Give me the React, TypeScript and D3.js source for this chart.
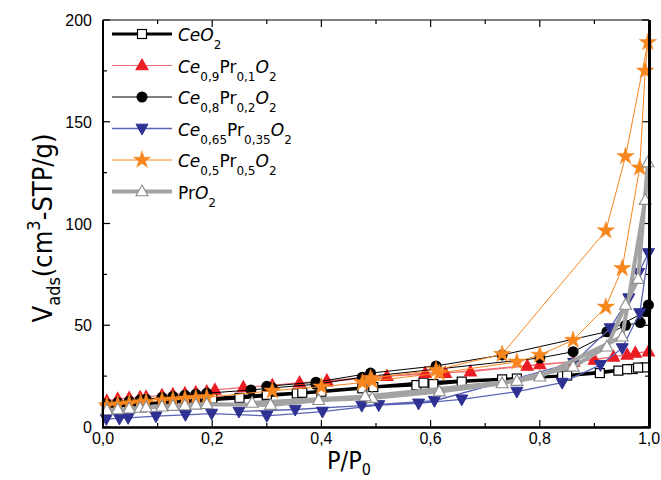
import React from "react";
import * as d3 from "d3";

type Pt = [number, number];

// P/P0, Vads pairs in measurement order (adsorption then desorption)
const ceo2: Pt[] = [[0.007,9.5],[0.027,10.3],[0.048,10.8],[0.068,11.2],[0.079,11.4],[0.108,12],[0.128,12.3],[0.15,12.6],[0.17,12.9],[0.19,13.2],[0.2,13.4],[0.25,14.3],[0.3,15.3],[0.355,16.5],[0.4,17.3],[0.475,19],[0.495,19.6],[0.574,20.6],[0.605,21.1],[0.657,22.3],[0.731,23.4],[0.841,25],[0.91,26.5],[0.944,27.7],[0.97,28.5],[0.994,29.3],[0.98,29.2],[0.96,28.4],[0.85,25.3],[0.758,23.8],[0.587,21.8],[0.365,16.8],[0.3,15.8],[0.2,14]];
const ce09: Pt[] = [[0.007,12.8],[0.027,13.8],[0.048,14.3],[0.068,14.6],[0.079,14.8],[0.108,15.6],[0.128,16],[0.15,16.5],[0.17,17],[0.19,17.4],[0.205,18.2],[0.257,19.5],[0.31,20.5],[0.36,21.8],[0.41,22.3],[0.59,26.5],[0.673,27.2],[0.777,30],[0.862,32],[0.935,34.5],[0.975,36.4],[0.999,37],[0.96,35.5],[0.9,33],[0.8,30.8],[0.627,26.5],[0.52,25],[0.41,22.8]];
const ce08: Pt[] = [[0.007,11.3],[0.027,12],[0.048,12.6],[0.068,13.3],[0.079,13.6],[0.108,14.5],[0.128,15],[0.15,15.6],[0.17,16.1],[0.19,16.6],[0.271,18.2],[0.31,19.2],[0.39,21],[0.475,24.5],[0.8,33.9],[0.861,37],[0.957,50],[0.984,51.3],[0.999,60],[0.994,56.7],[0.923,46.8],[0.731,35.4],[0.61,30],[0.49,26.5],[0.39,22],[0.3,20]];
const ce065: Pt[] = [[0.006,4],[0.03,4.2],[0.046,4.5],[0.097,5.3],[0.151,6],[0.199,6.6],[0.3,5.5],[0.402,7.6],[0.505,10.8],[0.578,11.6],[0.657,13.6],[0.758,17.4],[0.841,21.8],[0.911,30.5],[0.951,38.8],[0.983,56],[0.999,85.5],[0.981,75.8],[0.963,63.3],[0.929,48.6],[0.862,31.6],[0.607,12.9],[0.474,10.5],[0.352,8.6],[0.249,7.6]];
const ce05: Pt[] = [[0.007,10.5],[0.027,11],[0.048,11.5],[0.069,12],[0.079,12.3],[0.108,13],[0.128,13.4],[0.15,13.8],[0.17,14.2],[0.19,14.6],[0.31,17.8],[0.4,19.8],[0.475,21.8],[0.493,22.6],[0.616,26.5],[0.758,32],[0.8,35.4],[0.861,42.7],[0.921,59],[0.951,78],[0.983,127.4],[0.993,175],[0.998,189],[0.957,133],[0.921,96.5],[0.731,35.8],[0.61,28],[0.49,24]];
const pro2: Pt[] = [[0.007,8.3],[0.027,8.6],[0.048,9],[0.068,9.4],[0.079,9.6],[0.108,10],[0.128,10.3],[0.15,10.6],[0.17,10.9],[0.19,11.2],[0.307,10.8],[0.395,13.2],[0.493,14.2],[0.616,17.4],[0.731,21.4],[0.861,29.6],[0.923,39.5],[0.957,60],[0.98,72.7],[0.998,130],[0.993,111.5],[0.951,44.4],[0.8,24.7],[0.758,22.6],[0.48,15],[0.273,11.8]];

const xTicks = [0, 0.2, 0.4, 0.6, 0.8, 1.0];
const xTickLabels = ["0,0", "0,2", "0,4", "0,6", "0,8", "1,0"];
const yTicks = [0, 50, 100, 150, 200];

type Seg = { t: string; sub?: boolean; it?: boolean };
const labels: Seg[][] = [
  [{ t: "Ce", it: true }, { t: "O", it: true }, { t: "2", sub: true }],
  [{ t: "Ce", it: true }, { t: "0,9", sub: true }, { t: "Pr" }, { t: "0,1", sub: true }, { t: "O", it: true }, { t: "2", sub: true }],
  [{ t: "Ce", it: true }, { t: "0,8", sub: true }, { t: "Pr" }, { t: "0,2", sub: true }, { t: "O", it: true }, { t: "2", sub: true }],
  [{ t: "Ce", it: true }, { t: "0,65", sub: true }, { t: "Pr" }, { t: "0,35", sub: true }, { t: "O", it: true }, { t: "2", sub: true }],
  [{ t: "Ce", it: true }, { t: "0,5", sub: true }, { t: "Pr" }, { t: "0,5", sub: true }, { t: "O", it: true }, { t: "2", sub: true }],
  [{ t: "Pr" }, { t: "O", it: true }, { t: "2", sub: true }],
];

type Style = { line: string; lw: number; marker: string; fill: string; stroke: string; size: number };
const series: { data: Pt[]; st: Style }[] = [
  { data: ceo2, st: { line: "#000", lw: 3, marker: "square", fill: "#fff", stroke: "#000", size: 9 } },
  { data: ce09, st: { line: "#ef6f74", lw: 1.2, marker: "triangle", fill: "#ec1c24", stroke: "#ec1c24", size: 12 } },
  { data: ce08, st: { line: "#000", lw: 1, marker: "circle", fill: "#000", stroke: "#000", size: 11 } },
  { data: ce065, st: { line: "#5a63b4", lw: 1.3, marker: "tridown", fill: "#2e3192", stroke: "#2e3192", size: 12 } },
  { data: ce05, st: { line: "#f7861e", lw: 1, marker: "star", fill: "#f7861e", stroke: "#f7861e", size: 13 } },
  { data: pro2, st: { line: "#a3a3a3", lw: 4, marker: "triup", fill: "#fff", stroke: "#8c8c8c", size: 12 } },
];

const W = 661, H = 480;
const x = d3.scaleLinear().domain([0, 1]).range([103, 649]);
const y = d3.scaleLinear().domain([0, 200]).range([427, 20]);

function Marker({ cx, cy, st }: { cx: number; cy: number; st: Style }) {
  const s = st.size;
  if (st.marker === "square")
    return <rect x={cx - s / 2} y={cy - s / 2} width={s} height={s} fill={st.fill} stroke={st.stroke} strokeWidth={1.2} />;
  if (st.marker === "circle") return <circle cx={cx} cy={cy} r={s / 2} fill={st.fill} />;
  const h = s * 0.9;
  if (st.marker === "triangle" || st.marker === "triup")
    return <path d={`M${cx},${cy - h * 0.6}L${cx + s / 2},${cy + h * 0.4}L${cx - s / 2},${cy + h * 0.4}Z`} fill={st.fill} stroke={st.stroke} strokeWidth={1.1} />;
  if (st.marker === "tridown")
    return <path d={`M${cx},${cy + h * 0.6}L${cx + s / 2},${cy - h * 0.4}L${cx - s / 2},${cy - h * 0.4}Z`} fill={st.fill} stroke={st.stroke} strokeWidth={1} />;
  const star = d3.symbol().type(d3.symbolStar).size(s * s * 0.55)();
  return <path d={star || ""} transform={`translate(${cx},${cy})`} fill={st.fill} stroke={st.stroke} strokeWidth={0.5} />;
}

export default function App() {
  const line = d3.line<Pt>().x((d) => x(d[0])).y((d) => y(d[1]));
  const x0 = x(0), x1 = x(1), y0 = y(0), y1 = y(200);
  const minorX = d3.range(0, 1.0001, 0.1);
  const minorY = d3.range(0, 200.001, 25);
  const tickFont = "'Liberation Sans', Arial, sans-serif";
  const legFont = "'DejaVu Sans', Verdana, sans-serif";
  const titleFont = "'DejaVu Sans Condensed', 'DejaVu Sans', sans-serif";
  return (
    <svg width={W} height={H} style={{ position: "absolute", left: 0, top: 0, background: "#fff" }}>
      <rect width={W} height={H} fill="#fff" />
      {/* ticks */}
      {minorX.map((v, i) => {
        const len = i % 2 === 0 ? 7 : 4;
        return (
          <g key={"xt" + i} stroke="#000" strokeWidth={1.2}>
            <line x1={x(v)} x2={x(v)} y1={y0} y2={y0 - len} />
            <line x1={x(v)} x2={x(v)} y1={y1} y2={y1 + len} />
          </g>
        );
      })}
      {minorY.map((v, i) => {
        const len = i % 2 === 0 ? 7 : 4;
        return (
          <g key={"yt" + i} stroke="#000" strokeWidth={1.2}>
            <line x1={x0} x2={x0 + len} y1={y(v)} y2={y(v)} />
            <line x1={x1} x2={x1 - len} y1={y(v)} y2={y(v)} />
          </g>
        );
      })}
      {/* series */}
      {series.map((s, i) => (
        <g key={"s" + i}>
          <path d={line(s.data) || ""} fill="none" stroke={s.st.line} strokeWidth={s.st.lw} strokeLinejoin="round" />
          {s.data.map((d, j) => (
            <Marker key={j} cx={x(d[0])} cy={y(d[1])} st={s.st} />
          ))}
        </g>
      ))}
      {/* frame */}
      <line x1={x0} x2={x1} y1={y1} y2={y1} stroke="#000" strokeWidth={1.2} />
      <line x1={x0} x2={x0} y1={y1} y2={y0 + 1} stroke="#000" strokeWidth={2} />
      <line x1={x0 - 1} x2={x1 + 1.5} y1={y0 + 0.5} y2={y0 + 0.5} stroke="#000" strokeWidth={2.5} />
      <line x1={x1 + 0.5} x2={x1 + 0.5} y1={y1} y2={y0 + 1} stroke="#000" strokeWidth={3} />
      {/* tick labels */}
      {xTicks.map((v, i) => (
        <text key={"xl" + i} x={x(v)} y={444} textAnchor="middle" fontFamily={tickFont} fontSize={16}>
          {xTickLabels[i]}
        </text>
      ))}
      {yTicks.map((v, i) => (
        <text key={"yl" + i} x={x0 - 11} y={y(v) + 6} textAnchor="end" fontFamily={tickFont} fontSize={16}>
          {v}
        </text>
      ))}
      {/* axis titles */}
      <text x={349} y={469} textAnchor="middle" fontFamily={titleFont} fontSize={25}>
        P/P<tspan fontSize={16} dy={6}>0</tspan>
      </text>
      <text transform="translate(52,228) rotate(-90)" textAnchor="middle" fontFamily={titleFont} fontSize={27}>
        V<tspan fontSize={18} dy={8}>ads</tspan>
        <tspan dy={-8}>(cm</tspan>
        <tspan fontSize={18} dy={-12}>3</tspan>
        <tspan dy={12}>-STP/g)</tspan>
      </text>
      {/* legend */}
      {series.map((s, i) => {
        const ly = 34 + i * 31.5;
        return (
          <g key={"lg" + i}>
            <line x1={112} x2={172} y1={ly} y2={ly} stroke={s.st.line} strokeWidth={s.st.lw} />
            <Marker cx={142} cy={ly} st={s.st} />
            <text x={178} y={ly + 7} fontFamily={legFont} fontSize={17}>
              {labels[i].map((g, k) => {
                const prev = k > 0 ? labels[i][k - 1] : null;
                const dy = g.sub ? (prev && prev.sub ? 0 : 8) : prev && prev.sub ? -8 : 0;
                return (
                  <tspan key={k} dy={dy} fontSize={g.sub ? 12 : 17} fontStyle={g.it ? "italic" : "normal"}>
                    {g.t}
                  </tspan>
                );
              })}
            </text>
          </g>
        );
      })}
    </svg>
  );
}
